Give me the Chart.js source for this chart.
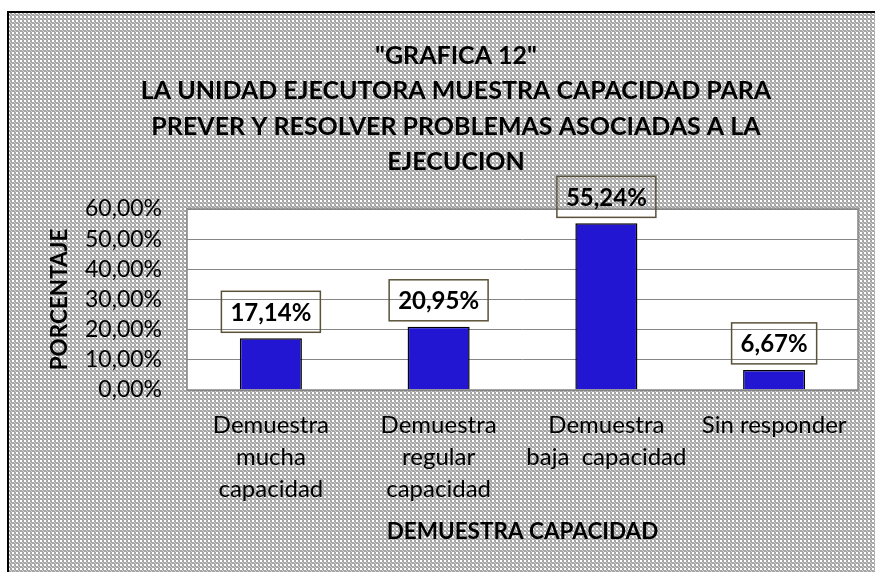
<!DOCTYPE html>
<html>
<head>
<meta charset="utf-8">
<script src="https://cdn.jsdelivr.net/npm/chart.js@4.4.1/dist/chart.umd.min.js"></script>
<style>
  html, body { margin: 0; padding: 0; background: #fff; }
  #wrap { width: 875px; height: 572px; }
</style>
</head>
<body>
<div id="wrap"><canvas id="barChart" width="875" height="572"></canvas></div>
<script>
const titleLines = ['"GRAFICA 12"', 'LA UNIDAD EJECUTORA MUESTRA CAPACIDAD PARA', 'PREVER Y RESOLVER PROBLEMAS ASOCIADAS A LA', 'EJECUCION'];
const categories = [
    ['Demuestra', 'mucha', 'capacidad'],
    ['Demuestra', 'regular', 'capacidad'],
    ['Demuestra', 'baja  capacidad'],
    'Sin responder'
];
const percentages = [17.14, 20.95, 55.24, 6.67];
const yTicks = [0, 10, 20, 30, 40, 50, 60];
const yTitle = 'PORCENTAJE';
const xTitle = 'DEMUESTRA CAPACIDAD';

const FONT = 'Lato, "Open Sans", sans-serif';
const PAD_LEFT = 54;

function makePattern() {
    const c = document.createElement('canvas');
    c.width = 4; c.height = 4;
    const g = c.getContext('2d');
    g.fillStyle = '#a6a6a6';
    g.fillRect(0, 0, 4, 4);
    g.fillStyle = '#ffffff';
    g.fillRect(0, 0, 2, 2);
    g.fillStyle = '#d0d0d0';
    g.fillRect(2, 2, 1, 1);
    g.fillRect(3, 3, 1, 1);
    return g.createPattern(c, 'repeat');
}

function pct(v) {
    return v.toFixed(2).replace('.', ',') + '%';
}

const backgroundPlugin = {
    id: 'backgroundPlugin',
    beforeDraw(chart) {
        const ctx = chart.ctx;
        const a = chart.chartArea;
        ctx.save();
        ctx.fillStyle = '#ffffff';
        ctx.fillRect(0, 0, chart.width, chart.height);
        ctx.fillStyle = makePattern();
        ctx.fillRect(9, 13, chart.width - 9, chart.height - 13);
        ctx.strokeStyle = '#000';
        ctx.lineWidth = 2;
        ctx.beginPath();
        ctx.moveTo(8, chart.height);
        ctx.lineTo(8, 12);
        ctx.lineTo(chart.width, 12);
        ctx.stroke();
        ctx.fillStyle = '#ffffff';
        ctx.fillRect(a.left, a.top, a.right - a.left, a.bottom - a.top);
        ctx.restore();
    },
    afterDatasetsDraw(chart) {
        const ctx = chart.ctx;
        const a = chart.chartArea;
        ctx.save();
        ctx.strokeStyle = '#868686';
        ctx.lineWidth = 1.5;
        ctx.strokeRect(a.left, a.top, a.right - a.left, a.bottom - a.top);
        ctx.restore();
    }
};

const labelBoxPlugin = {
    id: 'labelBoxPlugin',
    afterDatasetsDraw(chart) {
        const ctx = chart.ctx;
        const meta = chart.getDatasetMeta(0);
        ctx.save();
        ctx.font = 'bold 24px ' + FONT;
        ctx.textAlign = 'center';
        ctx.textBaseline = 'middle';
        meta.data.forEach((bar, i) => {
            const text = pct(percentages[i]);
            const w = ctx.measureText(text).width + 18;
            const h = 41;
            const x = bar.x - w / 2;
            const y = bar.y - 6 - h;
            ctx.strokeStyle = '#5a5238';
            ctx.lineWidth = 1.5;
            ctx.strokeRect(x, y, w, h);
            ctx.fillStyle = '#000';
            ctx.fillText(text, bar.x, y + h / 2 + 1);
        });
        ctx.restore();
    }
};

const ctx = document.getElementById('barChart').getContext('2d');
new Chart(ctx, {
    type: 'bar',
    data: {
        labels: categories,
        datasets: [{
            data: percentages,
            backgroundColor: '#2216d2',
            borderColor: '#000000',
            borderWidth: 1.5,
            barPercentage: 0.37,
            categoryPercentage: 1.0
        }]
    },
    options: {
        responsive: false,
        animation: false,
        layout: { padding: { left: PAD_LEFT, right: 17, top: 0, bottom: 0 } },
        plugins: {
            legend: { display: false },
            tooltip: { enabled: false },
            title: {
                display: true,
                text: titleLines,
                color: '#000',
                font: { family: FONT, size: 25, weight: 'bold', lineHeight: 1.42 },
                padding: { top: 38, bottom: 29 }
            }
        },
        scales: {
            x: {
                grid: { display: false, drawTicks: false },
                border: { display: false },
                ticks: {
                    color: '#000',
                    padding: 19,
                    maxRotation: 0,
                    autoSkip: false,
                    font: { family: FONT, size: 24, lineHeight: '32px' }
                },
                title: {
                    display: true,
                    text: xTitle,
                    color: '#000',
                    font: { family: FONT, size: 22.5, weight: 'bold', lineHeight: 1.2 },
                    padding: { top: 0, bottom: 27 }
                },
                afterFit(scale) { scale.height = 182; }
            },
            y: {
                min: 0,
                max: 60,
                afterBuildTicks(scale) { scale.ticks = yTicks.map(v => ({ value: v })); },
                grid: { color: '#868686', lineWidth: 1, drawTicks: false },
                border: { display: false },
                ticks: {
                    color: '#000',
                    padding: 25,
                    autoSkip: false,
                    font: { family: FONT, size: 23, lineHeight: 1 },
                    callback: v => pct(v)
                },
                title: {
                    display: true,
                    text: yTitle,
                    color: '#000',
                    font: { family: FONT, size: 22.5, weight: 'bold', lineHeight: 1.2 },
                    padding: { top: 60 - PAD_LEFT - 13.5, bottom: 0 }
                },
                afterFit(scale) { scale.width = 187 - PAD_LEFT; }
            }
        }
    },
    plugins: [backgroundPlugin, labelBoxPlugin]
});
</script>
</body>
</html>
